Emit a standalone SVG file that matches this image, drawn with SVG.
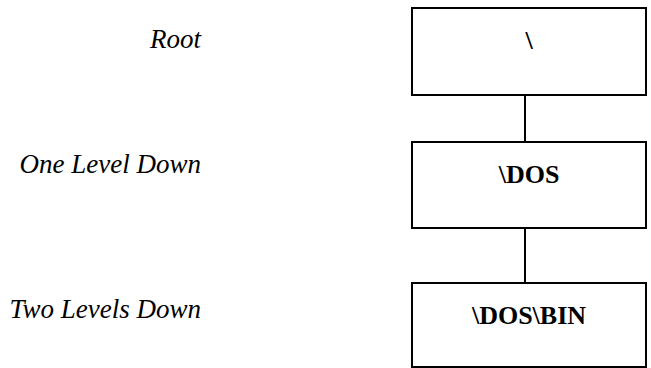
<svg xmlns="http://www.w3.org/2000/svg" width="651" height="368" viewBox="0 0 651 368">
<style>
.box{fill:#fff;stroke:#000;stroke-width:2}
.conn{stroke:#000;stroke-width:2;fill:none}
.lbl{font-family:"Liberation Serif","Times New Roman",serif;font-style:italic;font-size:27px;fill:#000;text-anchor:end}
.name{font-family:"Liberation Serif","Times New Roman",serif;font-weight:bold;font-size:26px;fill:#000;text-anchor:middle}
</style>
<rect width="651" height="368" fill="#fff"/>
<g id="connectors">
<line class="conn" x1="525" y1="95" x2="525" y2="142"/>
<line class="conn" x1="525" y1="228" x2="525" y2="283"/>
</g>
<g id="labels">
<text class="lbl" x="201" y="48">Root</text>
<text class="lbl" x="201" y="173">One Level Down</text>
<text class="lbl" x="201" y="318">Two Levels Down</text>
</g>
<g id="root">
<rect class="box" x="412" y="8" width="234" height="87"/>
<text class="name" x="529" y="49">\</text>
</g>
<g id="dos">
<rect class="box" x="412" y="142" width="234" height="86"/>
<text class="name" x="529" y="183">\DOS</text>
</g>
<g id="dosbin">
<rect class="box" x="412" y="283" width="234" height="84"/>
<text class="name" x="529" y="324">\DOS\BIN</text>
</g>
</svg>
